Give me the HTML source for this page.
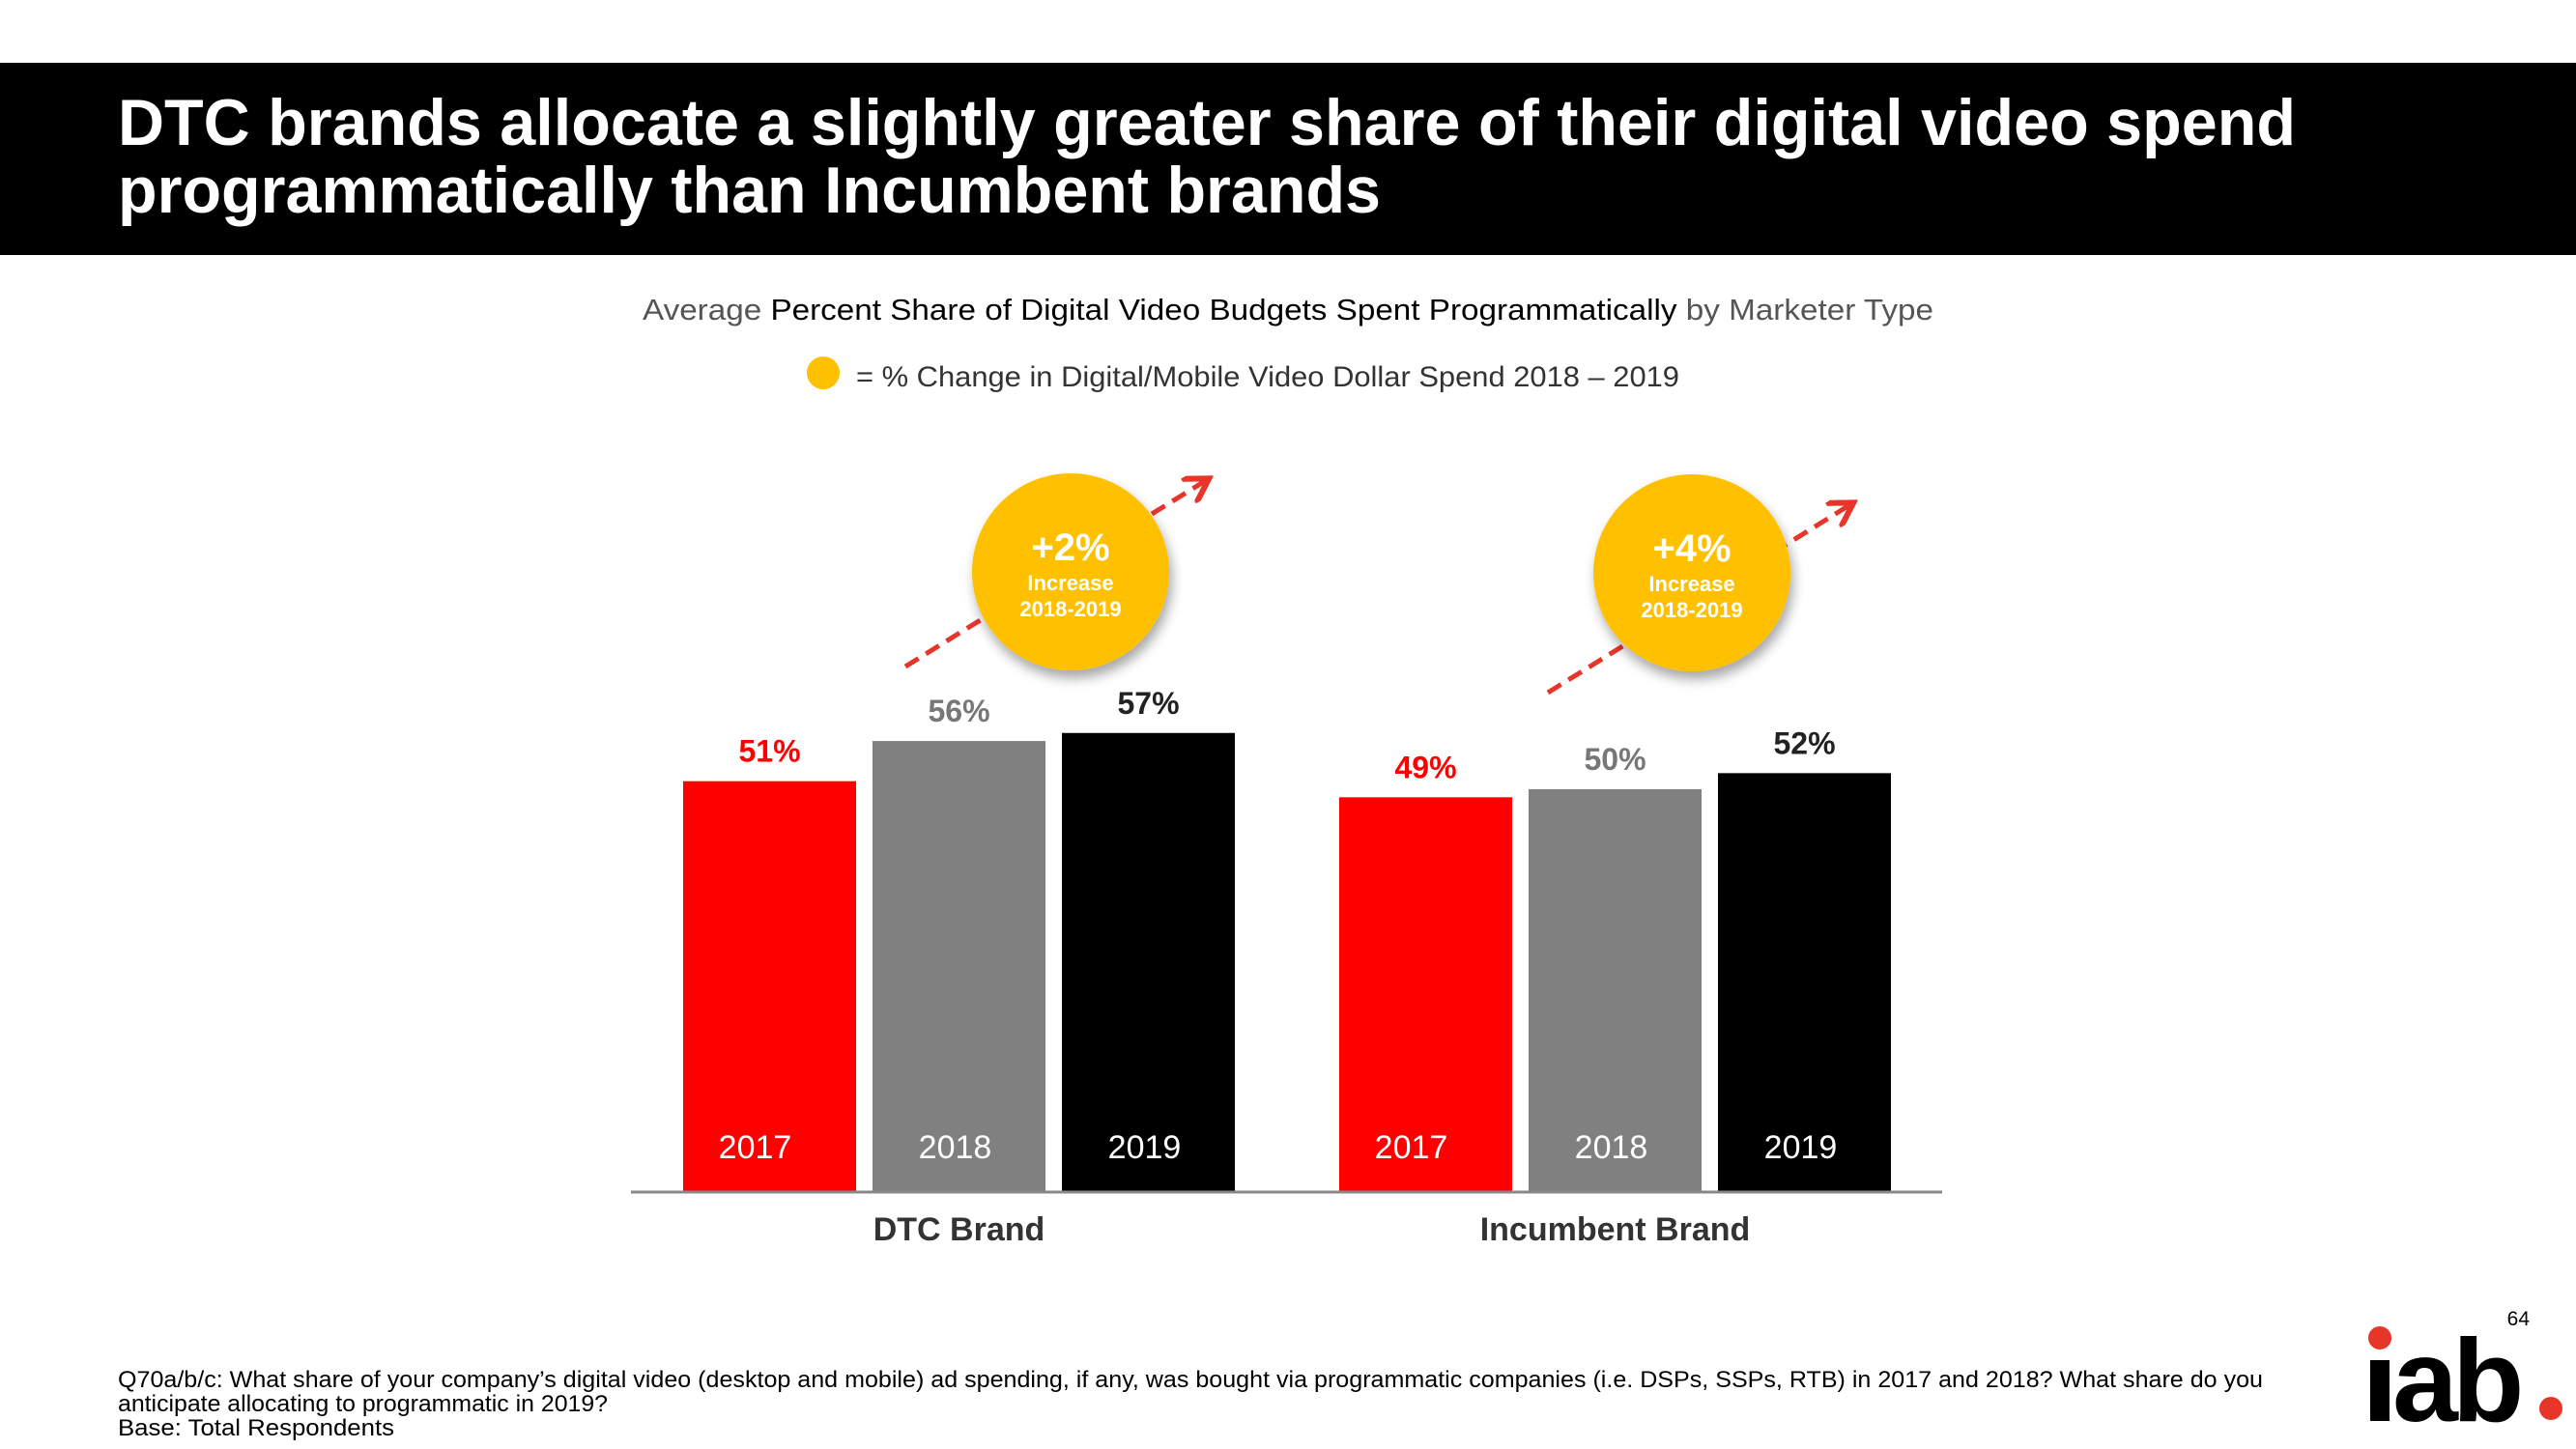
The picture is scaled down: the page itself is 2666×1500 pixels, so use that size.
<!DOCTYPE html>
<html><head><meta charset="utf-8"><style>
html,body{margin:0;padding:0;background:#fff;}
svg{display:block;font-family:"Liberation Sans",Arial,sans-serif;}
</style></head><body>
<svg id="chart" width="2666" height="1500" viewBox="0 0 2666 1500">
<rect x="0" y="65" width="2666" height="199" fill="#000"/>
<text x="122" y="150" font-size="68" font-weight="bold" fill="#fff" textLength="2254" lengthAdjust="spacingAndGlyphs">DTC brands allocate a slightly greater share of their digital video spend</text>
<text x="122" y="220" font-size="68" font-weight="bold" fill="#fff" textLength="1307" lengthAdjust="spacingAndGlyphs">programmatically than Incumbent brands</text>
<text x="665" y="331" font-size="31" fill="#555" textLength="1336" lengthAdjust="spacingAndGlyphs">Average <tspan fill="#000">Percent Share of Digital Video Budgets Spent Programmatically</tspan> by Marketer Type</text>
<circle cx="852" cy="386" r="17" fill="#FFC000"/>
<text x="886" y="400" font-size="30" fill="#333" textLength="852" lengthAdjust="spacingAndGlyphs">= % Change in Digital/Mobile Video Dollar Spend  2018 – 2019</text>
<g id="bars"></g>
<line x1="653" y1="1234" x2="2010" y2="1234" stroke="#888" stroke-width="3"/>
<g id="callouts"></g>
<text x="122" y="1436" font-size="24" fill="#000" textLength="2220" lengthAdjust="spacingAndGlyphs">Q70a/b/c: What share of your company’s digital video (desktop and mobile) ad spending, if any, was bought via programmatic companies (i.e. DSPs, SSPs, RTB) in 2017 and 2018?  What share do you</text>
<text x="122" y="1461" font-size="24" fill="#000" textLength="507" lengthAdjust="spacingAndGlyphs">anticipate allocating to programmatic in 2019?</text>
<text x="122" y="1486" font-size="24" fill="#000" textLength="286" lengthAdjust="spacingAndGlyphs">Base:  Total Respondents</text>
<text x="2618" y="1372" font-size="21" fill="#000" text-anchor="end">64</text>
<g>
<circle cx="2463" cy="1385" r="12" fill="#E8352A"/>
<rect x="2453" y="1408" width="20" height="63" fill="#000"/>
<text x="2476" y="1471" font-size="122" font-weight="bold" fill="#000" letter-spacing="-6">ab</text>
<circle cx="2640" cy="1458" r="12" fill="#E8352A"/>
</g>
</svg>
<script>
const categories = ["DTC Brand", "Incumbent Brand"];
const years = ["2017", "2018", "2019"];
const dtcValues = [51, 56, 57];
const incumbentValues = [49, 50, 52];
const changeLabels = ["+2%", "+4%"];
const NS = "http://www.w3.org/2000/svg";
const baseY = 1233, pxPerPct = 8.32;
const groupX = [707, 1386], barW = 179, barGap = 17;
const colors = ["#FF0000", "#808080", "#000000"];
const labelColors = ["#FF0000", "#777777", "#222222"];
function y(v){ return baseY - v * pxPerPct; }
function mk(tag, attrs, parent){ const e = document.createElementNS(NS, tag); for (const k in attrs) e.setAttribute(k, attrs[k]); parent.appendChild(e); return e; }
const bars = document.getElementById("bars");
const series = [dtcValues, incumbentValues];
series.forEach((vals, g) => {
  vals.forEach((v, i) => {
    const x = groupX[g] + i * (barW + barGap);
    const r = mk("rect", {x: x, y: y(v), width: barW, height: baseY - y(v), fill: colors[i]}, bars);
    
    
    const t = mk("text", {x: x + barW/2, y: y(v) - 20, "font-size": 32, "font-weight": "bold", fill: labelColors[i], "text-anchor": "middle"}, bars);
    t.textContent = v + "%";
    
    
    const yl = mk("text", {x: x + barW/2 - (i===0?15:(i===1?4:4)), y: 1199, "font-size": 34, fill: "#fff", "text-anchor": "middle"}, bars);
    yl.textContent = years[i];
    
    
  });
  const c = mk("text", {x: groupX[g] + 1.5*barW + barGap, y: 1284, "font-size": 34, "font-weight": "bold", fill: "#333", "text-anchor": "middle"}, bars);
  c.textContent = categories[g];
  
  
});
const co = document.getElementById("callouts");
const defs = mk("defs", {}, co);
const f = mk("filter", {id: "sh", x: "-20%", y: "-20%", width: "150%", height: "150%"}, defs);
mk("feDropShadow", {dx: 3, dy: 8, stdDeviation: 6, "flood-color": "#000", "flood-opacity": 0.35}, f);
const mkr = mk("marker", {id: "ah", markerWidth: 6, markerHeight: 6, refX: 4, refY: 3, orient: "auto", markerUnits: "strokeWidth"}, defs);
mk("path", {d: "M0,0 L5,3 L0,6", fill: "none", stroke: "#E8352A", "stroke-width": 1.2}, mkr);
const circles = [{cx:1108, cy:592, ax1:937, ay1:690, ax2:1247, ay2:498}, {cx:1751, cy:593, ax1:1602, ay1:717, ax2:1914, ay2:523}];
circles.forEach((p, i) => {
  const l = mk("line", {x1: p.ax1, y1: p.ay1, x2: p.ax2, y2: p.ay2, stroke: "#E8352A", "stroke-width": 5, "stroke-dasharray": "16 9", "marker-end": "url(#ah)"}, co);
  
  
  const c = mk("circle", {cx: p.cx, cy: p.cy, r: 102, fill: "#FFC000", filter: "url(#sh)"}, co);
  
  
  const t1 = mk("text", {x: p.cx, y: p.cy - 12, "font-size": 40, "font-weight": "bold", fill: "#fff", "text-anchor": "middle"}, co);
  t1.textContent = changeLabels[i];
  
  
  const t2 = mk("text", {x: p.cx, y: p.cy + 19, "font-size": 22, "font-weight": "bold", fill: "#fff", "text-anchor": "middle"}, co);
  t2.textContent = "Increase";
  
  
  const t3 = mk("text", {x: p.cx, y: p.cy + 46, "font-size": 22, "font-weight": "bold", fill: "#fff", "text-anchor": "middle"}, co);
  t3.textContent = "2018-2019";
  
  
});
</script>
</body></html>
